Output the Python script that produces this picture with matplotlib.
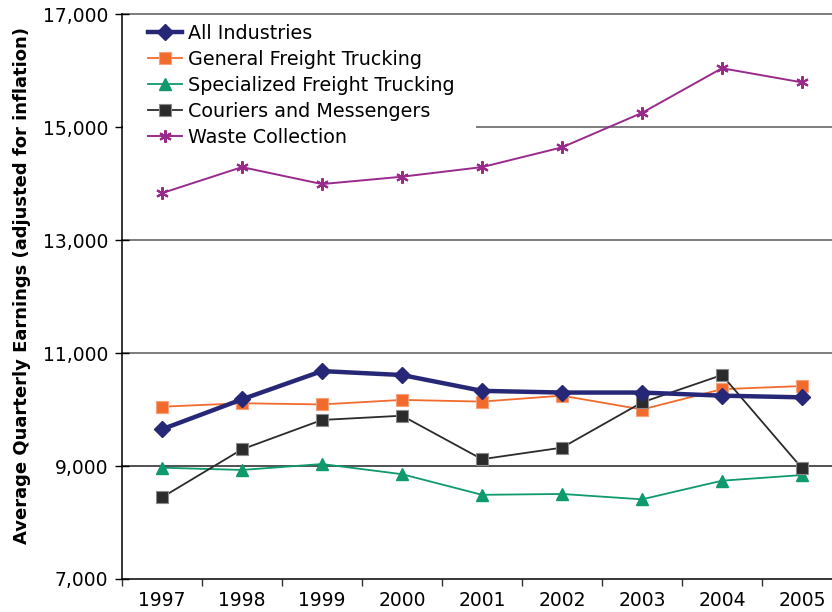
import matplotlib
matplotlib.use("Agg")
import matplotlib.pyplot as plt
from matplotlib.ticker import FuncFormatter, FixedLocator
from matplotlib.patches import Rectangle

years = ["1997", "1998", "1999", "2000", "2001", "2002", "2003", "2004", "2005"]
all_industries = [9650, 10180, 10680, 10610, 10330, 10300, 10300, 10245, 10215]
general_freight = [10050, 10110, 10090, 10170, 10140, 10245, 10000, 10360, 10415]
specialized_freight = [8970, 8930, 9035, 8855, 8490, 8505, 8410, 8740, 8840]
couriers = [8445, 9295, 9815, 9890, 9120, 9325, 10125, 10610, 8960]
waste = [13830, 14290, 13990, 14120, 14290, 14640, 15250, 16040, 15790]

plt.rcParams['font.family'] = ['DejaVu Sans']

fig = plt.figure(figsize=(8.32, 6.12), dpi=100)
ax = fig.add_axes([122/832, 1-579/612, 720/832, (579-14)/612])

x = list(range(len(years)))
ax.plot(x, all_industries, color="#272777", lw=3.2, marker="D", ms=8, label="All Industries", zorder=6)
ax.plot(x, general_freight, color="#F26B2C", lw=1.3, marker="s", ms=8, markeredgecolor="#F5A27A", markeredgewidth=0.8, label="General Freight Trucking", zorder=5)
ax.plot(x, specialized_freight, color="#0E9A6C", lw=1.3, marker="^", ms=8.5, label="Specialized Freight Trucking", zorder=5)
ax.plot(x, couriers, color="#2B2B2B", lw=1.3, marker="s", ms=8, markeredgecolor="#8a8a8a", markeredgewidth=0.8, label="Couriers and Messengers", zorder=5)
ax.plot(x, waste, color="#992A8C", lw=1.4, marker=(6, 2, 0), ms=9, mew=1.5, label="Waste Collection", zorder=5)

ax.set_xlim(-0.5, len(years) - 0.5)
ax.set_ylim(7000, 17000)
ax.set_yticks([7000, 9000, 11000, 13000, 15000, 17000])
ax.yaxis.set_major_formatter(FuncFormatter(lambda v, p: f"{int(v):,}"))
ax.set_xticks(x)
ax.set_xticklabels(years)
ax.xaxis.set_minor_locator(FixedLocator([i - 0.5 for i in range(len(years) + 1)]))
ax.tick_params(axis="x", which="major", length=0, labelsize=13.5, pad=9)
ax.tick_params(axis="x", which="minor", length=5, width=1, direction="out", color="#333333")
ax.tick_params(axis="y", which="major", length=9.5, width=1, direction="inout", labelsize=13.5, pad=5)

for s in ["top", "right"]:
    ax.spines[s].set_visible(False)
ax.spines["left"].set_linewidth(1.1)
ax.spines["bottom"].set_linewidth(1.1)

for v in [9000, 11000, 13000, 15000, 17000]:
    ax.axhline(v, color="#5a5a5a" if v != 9000 else "#222222", lw=1.1, zorder=1, clip_on=False)

ax.set_ylabel("Average Quarterly Earnings (adjusted for inflation)",
              fontweight="bold", fontsize=13)
ax.yaxis.set_label_coords(-0.1264, 0.52)

# white backdrop behind the legend (hides the 15,000 gridline as in the original)
ax.add_patch(Rectangle((0.002, 0.759), 0.4897, 0.232, transform=ax.transAxes,
                       facecolor="white", edgecolor="none", zorder=2))

leg = ax.legend(loc="upper left", bbox_to_anchor=(0.0361, 0.982), fontsize=13.8, frameon=False,
                handlelength=1.77, labelspacing=0.36, borderpad=0.0, handletextpad=0.31,
                borderaxespad=0.0)
leg.set_zorder(10)

fig.savefig("out.png", dpi=100)
